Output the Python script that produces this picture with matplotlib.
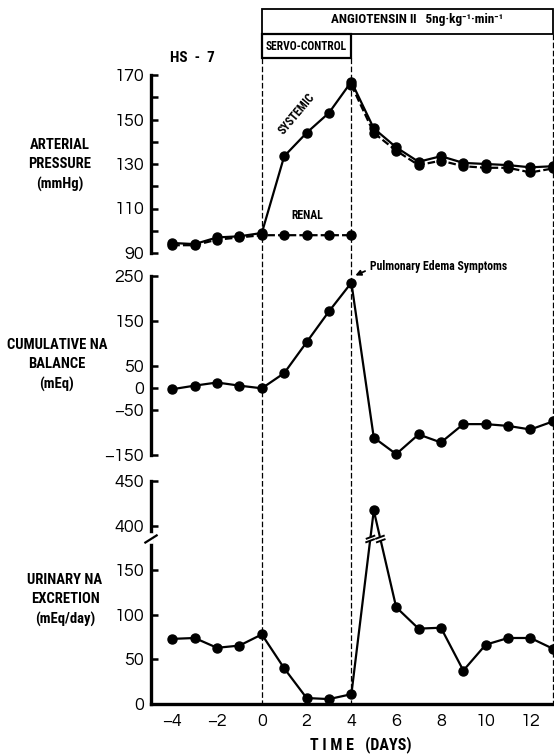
import numpy as np
import matplotlib
matplotlib.use("Agg")
import matplotlib.pyplot as plt
from matplotlib.patches import Rectangle

# ---------------- data ----------------
days = [-4, -3, -2, -1, 0, 1, 2, 3, 4, 5, 6, 7, 8, 9, 10, 11, 12, 13]
systemic = [94.5, 94, 97, 97.5, 99, 133.5, 144, 153, 167, 146, 137.5, 131, 133.5, 130.5, 130, 129.5, 128.5, 129]
renal_days_servo = [-4, -3, -2, -1, 0, 1, 2, 3, 4]
renal_servo = [93.5, 93.5, 96, 97, 98, 98, 98, 98, 98]
renal_days_post = [4, 5, 6, 7, 8, 9, 10, 11, 12, 13]
renal_post = [165.5, 144, 136, 129.5, 131.5, 129, 128.3, 128.3, 126.2, 128]
na_balance = [-3, 5, 12, 5, -1, 33, 102, 171, 235, -111, -148, -104, -122, -81, -81, -85, -93, -75]
urinary_na = [73, 74, 63, 65.5, 78, 40, 6.7, 5.5, 11, 417, 108.5, 84.5, 85.5, 37.5, 66.5, 74, 74, 62]

pressure_ticks = [90, 110, 130, 150, 170]
pressure_minor = [100, 120, 140, 160]
na_ticks = [-150, -50, 0, 50, 150, 250]
urinary_ticks = [0, 50, 100, 150, 400, 450]
x_ticks = [-4, -2, 0, 2, 4, 6, 8, 10, 12]

LAB = ['Roboto Condensed', 'DejaVu Sans']
NUM = ['Questrial', 'DejaVu Sans']

W, H = 554, 756
fig = plt.figure(figsize=(W / 100, H / 100), dpi=100)

XL = (-4.95, 13.05)
left = 151 / W
width = 1 - left


def pos(top_px, bot_px):
    return [left, 1 - bot_px / H, width, (bot_px - top_px) / H]


# overlay in pixel-y coordinates for vertical dashed lines and boxes
ov = fig.add_axes([left, 0, width, 1], zorder=0)
ov.set_xlim(*XL)
ov.set_ylim(H, 0)
ov.axis('off')
ov.patch.set_alpha(0)

ax1 = fig.add_axes(pos(75, 253), zorder=2)
ax2 = fig.add_axes(pos(276, 455), zorder=2)
ax3 = fig.add_axes(pos(481, 704), zorder=2)

LW = 1.6
MS = 6.5
TFS = 13
for ax in (ax1, ax2, ax3):
    ax.patch.set_alpha(0)
    ax.set_xlim(*XL)
    for s in ('top', 'right'):
        ax.spines[s].set_visible(False)
    ax.spines['left'].set_linewidth(2.4)
    ax.tick_params(axis='y', direction='in', length=5, width=1.8, pad=5,
                   labelsize=TFS)
    ax.tick_params(axis='y', which='minor', direction='in', length=5, width=1.8)

for ax in (ax1, ax2):
    ax.spines['bottom'].set_visible(False)
    ax.set_xticks([])

# ---------- arterial pressure ----------
ax1.set_ylim(90, 170)
ax1.set_yticks(pressure_ticks)
ax1.set_yticks(pressure_minor, minor=True)
ax1.yaxis.set_minor_formatter(matplotlib.ticker.NullFormatter())
ax1.plot(days, systemic, '-o', color='black', lw=LW, ms=MS, clip_on=False)
ax1.plot(renal_days_servo, renal_servo, 'o', ls=(0, (3.4, 1.4)), color='black', lw=LW, ms=MS, clip_on=False)
ax1.plot(renal_days_post, renal_post, 'o', ls=(0, (3.4, 1.4)), color='black', lw=LW, ms=MS, clip_on=False)
ax1.text(1.55, 152.5, 'SYSTEMIC', rotation=50, ha='center', va='center', fontsize=8.5,
         fontweight='bold', family=LAB)
ax1.text(2.05, 107, 'RENAL', ha='center', va='center', fontsize=8.5,
         fontweight='bold', family=LAB)

# ---------- cumulative Na balance ----------
ax2.set_ylim(-150, 250)
ax2.set_yticks(na_ticks)
ax2.plot(days, na_balance, '-o', color='black', lw=LW, ms=MS, clip_on=False)
ax2.annotate('Pulmonary Edema Symptoms', xy=(4.12, 250), xytext=(4.85, 272),
             fontsize=8.5, fontweight='bold', family=LAB, va='center', ha='left',
             annotation_clip=False,
             arrowprops=dict(arrowstyle='-|>', color='black', lw=1.3,
                             mutation_scale=8, shrinkA=2, shrinkB=1,
                             relpos=(0, 0.3)))

# ---------- urinary Na excretion (broken axis) ----------
def fwd(v):
    v = np.asarray(v, dtype=float)
    return np.where(v <= 180, v, np.where(v < 390, 180 + (v - 180) * 10 / 210, v - 200))


def inv(d):
    d = np.asarray(d, dtype=float)
    return np.where(d <= 180, d, np.where(d < 190, 180 + (d - 180) * 21, d + 200))


ax3.set_yscale('function', functions=(fwd, inv))
ax3.set_ylim(0, 450)
ax3.set_yticks(urinary_ticks)
ax3.set_yticklabels([str(t) for t in urinary_ticks])
ax3.yaxis.set_minor_locator(matplotlib.ticker.NullLocator())
ax3.spines['bottom'].set_linewidth(2.4)
ax3.set_xticks(x_ticks)
ax3.set_xticklabels([str(t).replace('-', '\u2212') for t in x_ticks])
ax3.tick_params(axis='x', length=0, pad=7, labelsize=TFS)
ax3.plot(days, urinary_na, '-o', color='black', lw=LW, ms=MS, clip_on=False, zorder=3)

for ax in (ax1, ax2, ax3):
    for t in ax.get_xticklabels() + ax.get_yticklabels():
        t.set_family(NUM)

# break marks on the spine
ytr = ax3.get_yaxis_transform()
ax3.plot([0, 0], [inv(182.5), inv(188)], color='white', lw=4, transform=ytr,
         clip_on=False, zorder=5)
ax3.plot([-0.014, 0.014], [inv(181), inv(189)], color='black', lw=1.6,
         transform=ytr, clip_on=False, zorder=6)

# break marks on the data line
for i in range(len(days) - 1):
    d0, d1 = float(fwd(urinary_na[i])), float(fwd(urinary_na[i + 1]))
    if (d0 - 185) * (d1 - 185) < 0:
        xa = days[i] + (183 - d0) / (d1 - d0) * (days[i + 1] - days[i])
        xb = days[i] + (187 - d0) / (d1 - d0) * (days[i + 1] - days[i])
        ax3.plot([xa, xb], [inv(183), inv(187)], color='white', lw=4, zorder=4,
                 solid_capstyle='butt')
        for xc, dc in ((xa, 183), (xb, 187)):
            ax3.plot([xc - 0.17, xc + 0.17], [inv(dc - 1.6), inv(dc + 1.6)],
                     color='black', lw=1.4, zorder=5)

# ---------- overlay: dashed lines and boxes ----------
dash = (0, (4.5, 2.0))
for xv, ytop in ((0, 58), (4, 58), (13, 34)):
    ov.plot([xv, xv], [ytop, 704], color='black', lw=0.9, ls=dash)
ov.add_patch(Rectangle((0, 9), 13, 25, fill=False, lw=1.3, ec='black'))
ov.add_patch(Rectangle((0, 34), 4, 24, fill=False, lw=1.6, ec='black'))
ov.text(6.95, 20, 'ANGIOTENSIN \u2161   5ng\u00b7kg\u207b\u00b9\u00b7min\u207b\u00b9', ha='center',
        va='center', fontsize=9.5, fontweight='bold', family=LAB)
ov.text(2.0, 46, 'SERVO-CONTROL', ha='center', va='center', fontsize=8.3,
        fontweight='bold', family=LAB)
ov.text(-3.1, 58, 'HS  -  7', ha='center', va='center', fontsize=11,
        fontweight='bold', family=LAB)

# ---------- axis labels ----------
LFS = 10.5
fig.text(60 / W, 1 - 165 / H, 'ARTERIAL\nPRESSURE\n(mmHg)', ha='center', va='center',
         fontsize=LFS, fontweight='bold', family=LAB, linespacing=1.45)
fig.text(57 / W, 1 - 365 / H, 'CUMULATIVE NA\nBALANCE\n(mEq)', ha='center', va='center',
         fontsize=LFS, fontweight='bold', family=LAB, linespacing=1.45)
fig.text(65 / W, 1 - 600 / H, 'URINARY NA\nEXCRETION\n(mEq/day)', ha='center', va='center',
         fontsize=LFS, fontweight='bold', family=LAB, linespacing=1.45)
fig.text(361 / W, 1 - 745 / H, 'T I M E   (DAYS)', ha='center', va='center',
         fontsize=11.5, fontweight='bold', family=LAB)

fig.savefig('out.png', dpi=100)
